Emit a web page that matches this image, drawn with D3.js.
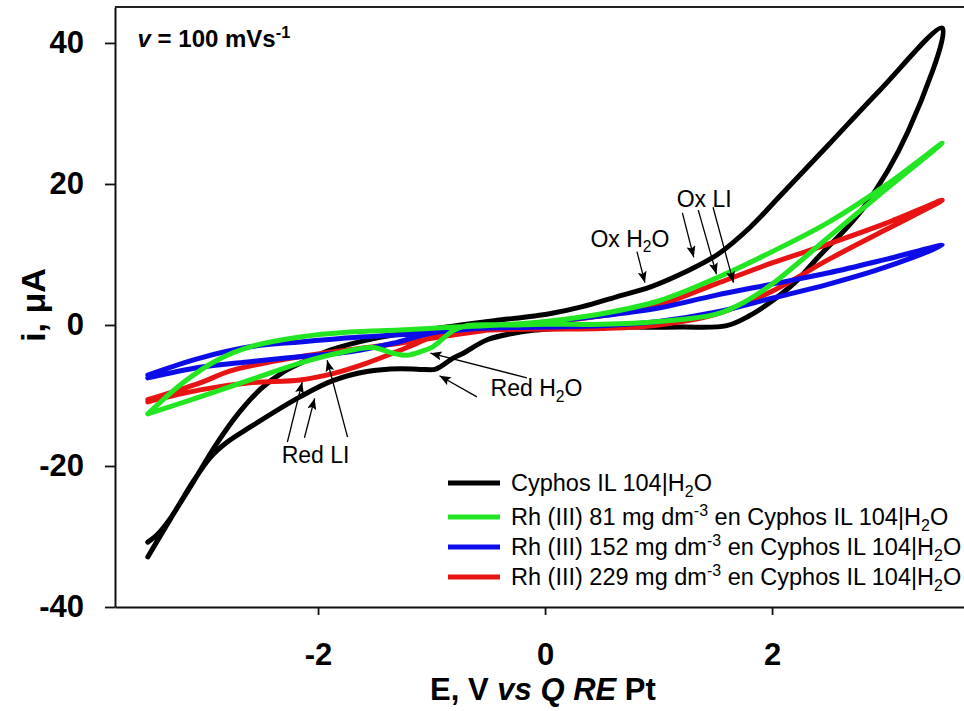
<!DOCTYPE html>
<html><head><meta charset="utf-8">
<script src="https://cdn.jsdelivr.net/npm/d3@7"></script>
<style>
html,body{margin:0;padding:0;background:#fff;}
svg{display:block;font-family:"Liberation Sans",Arial,Helvetica,sans-serif;}
</style></head><body>
<svg id="chart" width="964" height="711"></svg>
<script>
// ---------- data ----------
const xTicks = [-2, 0, 2];
const yTicks = [-40, -20, 0, 20, 40];
const seriesNames = [
  "Cyphos IL 104|H{_2}O",
  "Rh (III) 81 mg dm{^-3} en Cyphos IL 104|H{_2}O",
  "Rh (III) 152 mg dm{^-3} en Cyphos IL 104|H{_2}O",
  "Rh (III) 229 mg dm{^-3} en Cyphos IL 104|H{_2}O"
];
const seriesColors = ["#000000", "#22e622", "#0c0ce8", "#e81414"];

// [E (V), i (uA)] in scan order, each forms a loop
const blackLoop = [
  [-3.50,-30.8],[-3.42,-29.8],[-3.30,-27.4],[-3.10,-22.2],[-2.95,-18.8],[-2.80,-16.6],[-2.60,-14.5],
  [-2.16,-10.2],[-1.87,-7.9],[-1.57,-6.6],
  [-1.28,-6.2],[-1.10,-6.3],[-0.97,-6.3],[-0.92,-5.9],[-0.81,-4.7],[-0.72,-4.0],[-0.51,-2.1],
  [-0.22,-1.0],[-0.07,-0.7],[0.22,-0.4],[0.66,-0.3],[1.20,-0.3],[1.60,-0.1],[1.80,1.3],[2.00,3.4],
  [2.20,6.0],[2.40,9.5],[2.80,16.5],[3.20,27.5],[3.50,42.1],
  [2.95,33.3],[2.50,25.6],[2.07,18.3],[1.81,13.9],[1.52,10.0],[1.22,7.4],[0.93,5.4],[0.63,4.0],
  [0.33,2.6],[0.04,1.6],[-0.50,0.5],[-1.00,-0.6],[-1.50,-1.9],[-1.90,-3.6],[-2.10,-5.0],
  [-2.30,-6.6],[-2.50,-9.0],[-2.70,-12.5],[-2.90,-17.0],[-3.10,-22.3],[-3.30,-27.5],[-3.50,-32.9]
];
const greenLoop = [
  [-3.50,-12.6],[-3.04,-10.2],[-2.60,-7.8],[-2.16,-5.4],[-1.80,-3.9],[-1.52,-3.2],[-1.34,-4.0],
  [-1.22,-4.3],[-1.10,-3.8],[-0.99,-3.1],[-0.81,-0.8],[-0.69,-0.1],[-0.30,0.0],[0.00,0.1],
  [0.50,0.1],[1.00,0.5],[1.50,1.5],[1.75,3.2],[2.00,5.8],[2.50,12.5],[3.00,19.2],[3.50,25.8],
  [3.00,19.8],[2.50,14.6],[2.00,10.4],[1.50,6.6],[1.00,3.4],[0.50,1.6],[0.00,0.5],[-0.40,0.0],
  [-0.80,-0.3],[-1.28,-0.7],[-1.72,-1.0],[-2.16,-1.7],[-2.60,-3.1],[-2.89,-5.0],[-3.19,-8.2],
  [-3.50,-12.6]
];
const blueLoop = [
  [-3.50,-7.5],[-3.04,-6.0],[-2.60,-5.2],[-2.16,-4.5],[-1.72,-3.8],[-1.34,-2.6],[-0.99,-1.1],
  [-0.60,-0.5],[0.00,-0.3],[0.50,-0.1],[1.00,0.5],[1.50,1.8],[2.00,3.8],[2.50,5.8],[3.00,8.2],
  [3.50,11.3],
  [3.00,9.3],[2.50,7.4],[2.00,5.8],[1.50,4.2],[1.00,2.4],[0.50,1.3],[0.00,0.4],[-0.40,-0.2],
  [-0.80,-0.8],[-1.28,-1.4],[-1.72,-1.8],[-2.16,-2.4],[-2.60,-3.1],[-3.04,-4.7],[-3.50,-7.1]
];
const redLoop = [
  [-3.50,-10.9],[-3.04,-9.2],[-2.60,-8.2],[-2.16,-7.8],[-1.87,-6.9],[-1.57,-5.4],[-1.34,-4.0],
  [-1.13,-2.6],[-0.99,-1.7],[-0.60,-0.8],[0.00,-0.6],[0.50,-0.5],[1.00,0.0],[1.50,1.5],
  [2.00,4.8],[2.50,9.3],[3.00,13.5],[3.50,17.7],
  [3.00,14.4],[2.50,11.5],[2.00,8.8],[1.50,5.8],[1.00,2.8],[0.50,1.3],[0.00,0.3],[-0.40,-0.5],
  [-0.80,-1.4],[-1.28,-2.6],[-1.72,-3.5],[-2.16,-4.5],[-2.75,-6.4],[-3.04,-8.2],[-3.50,-10.6]
];
const seriesData = [blackLoop, greenLoop, blueLoop, redLoop];
const drawOrder = [0, 3, 2, 1];

// annotations (data units)
const noteLabels = ["Ox H{_2}O", "Ox LI", "Red H{_2}O", "Red LI"];
const noteAnchors = [[0.40, 11.1], [1.16, 16.7], [-0.48, -10.1], [-2.32, -19.6]];
const noteArrows = [
  [0.81, 10.4, 0.88, 6.0],
  [1.21, 15.9, 1.31, 9.6],
  [1.35, 16.3, 1.51, 7.2],
  [1.48, 16.7, 1.66, 6.0],
  [-0.16, -7.5, -1.01, -4.0],
  [-0.60, -10.2, -0.93, -7.2],
  [-2.27, -16.6, -2.14, -8.1],
  [-2.12, -16.0, -2.03, -10.4],
  [-1.74, -15.9, -1.92, -5.0]
];
const scanRateLabel = "{~v} = 100 mVs{^-1}";
const scanRateAnchor = [-3.59, 39.4];
const xTitle = "E, V {~vs} {~Q} {~RE} Pt";
const yTitle = "i, \u03bcA";

// ---------- chart ----------
const svg = d3.select("#chart");
const L = 115, R = 970, T = 7, B = 607;
const x = d3.scaleLinear().domain([-3.789, 3.744]).range([L, R]);
const y = d3.scaleLinear().domain([-40, 45.1]).range([B, T]);

function rich(sel, str, size) {
  const re = /\{([_^~])([^}]*)\}/g; let last = 0, m; const parts = [];
  while ((m = re.exec(str))) {
    if (m.index > last) parts.push({t: str.slice(last, m.index)});
    parts.push({t: m[2], k: m[1]}); last = re.lastIndex;
  }
  if (last < str.length) parts.push({t: str.slice(last)});
  let shift = 0;
  parts.forEach(p => {
    const ts = sel.append("tspan").text(p.t);
    let target = 0;
    if (p.k === "_") { target = size * 0.25; ts.attr("font-size", size * 0.68); }
    else if (p.k === "^") { target = -size * 0.40; ts.attr("font-size", size * 0.68); }
    else if (p.k === "~") { ts.attr("font-style", "italic"); }
    ts.attr("dy", target - shift); shift = target;
  });
}

const defs = svg.append("defs");
defs.append("marker").attr("id", "ah").attr("viewBox", "0 0 10 8")
  .attr("refX", 10).attr("refY", 4).attr("markerWidth", 12).attr("markerHeight", 9)
  .attr("markerUnits", "userSpaceOnUse").attr("orient", "auto")
  .append("path").attr("d", "M0,0 L10,4 L0,8 L2,4 Z").attr("fill", "#000");

// axes
const fmt = d => String(d);
const yAxis = svg.append("g").attr("transform", `translate(${L},0)`)
  .call(d3.axisLeft(y).tickValues(yTicks).tickFormat(fmt).tickSize(10).tickPadding(21).tickSizeOuter(0));
const xAxis = svg.append("g").attr("transform", `translate(0,${B})`)
  .call(d3.axisBottom(x).tickValues(xTicks).tickFormat(fmt).tickSize(8).tickPadding(28).tickSizeOuter(0));
[yAxis, xAxis].forEach(g => {
  g.select(".domain").attr("stroke", "#111").attr("stroke-width", 2);
  g.selectAll(".tick line").attr("stroke", "#111").attr("stroke-width", 1.8);
  g.selectAll(".tick text").attr("fill", "#000").attr("font-size", 31).attr("font-weight", "bold")
    .attr("font-family", '"Liberation Sans",Arial,sans-serif');
});
svg.append("line").attr("x1", L).attr("x2", R).attr("y1", T).attr("y2", T)
  .attr("stroke", "#222").attr("stroke-width", 2);

// curves
const line = d3.line().x(d => x(d[0])).y(d => y(d[1])).curve(d3.curveCatmullRom.alpha(0.5));
drawOrder.forEach(k => {
  svg.append("path").datum(seriesData[k]).attr("d", line)
    .attr("fill", "none").attr("stroke", seriesColors[k]).attr("stroke-width", 5)
    .attr("stroke-linejoin", "round").attr("stroke-linecap", "round");
});

// annotations
noteArrows.forEach(a => {
  svg.append("line").attr("x1", x(a[0])).attr("y1", y(a[1])).attr("x2", x(a[2])).attr("y2", y(a[3]))
    .attr("stroke", "#000").attr("stroke-width", 1.3).attr("marker-end", "url(#ah)");
});
noteLabels.forEach((s, i) => {
  const t = svg.append("text").attr("x", x(noteAnchors[i][0])).attr("y", y(noteAnchors[i][1]))
    .attr("font-size", 23).attr("fill", "#000");
  rich(t, s, 23);
});
const sr = svg.append("text").attr("x", x(scanRateAnchor[0])).attr("y", y(scanRateAnchor[1]))
  .attr("font-size", 24).attr("font-weight", "bold").attr("fill", "#000");
rich(sr, scanRateLabel, 24);

// legend
const legRows = [483, 517, 547, 577];
seriesNames.forEach((s, i) => {
  svg.append("line").attr("x1", 448).attr("x2", 500).attr("y1", legRows[i]).attr("y2", legRows[i])
    .attr("stroke", seriesColors[i]).attr("stroke-width", 5);
  const t = svg.append("text").attr("x", 511).attr("y", legRows[i] + 8)
    .attr("font-size", 23.5).attr("fill", "#000");
  rich(t, s, 23.5);
});

// axis titles
const xt = svg.append("text").attr("x", 543).attr("y", 700).attr("text-anchor", "middle")
  .attr("font-size", 31).attr("font-weight", "bold").attr("fill", "#000");
rich(xt, xTitle, 31);
svg.append("text").attr("transform", "translate(45,305) rotate(-90)").attr("text-anchor", "middle")
  .attr("font-size", 34).attr("font-weight", "bold").attr("fill", "#000").text(yTitle);
</script>
</body></html>
